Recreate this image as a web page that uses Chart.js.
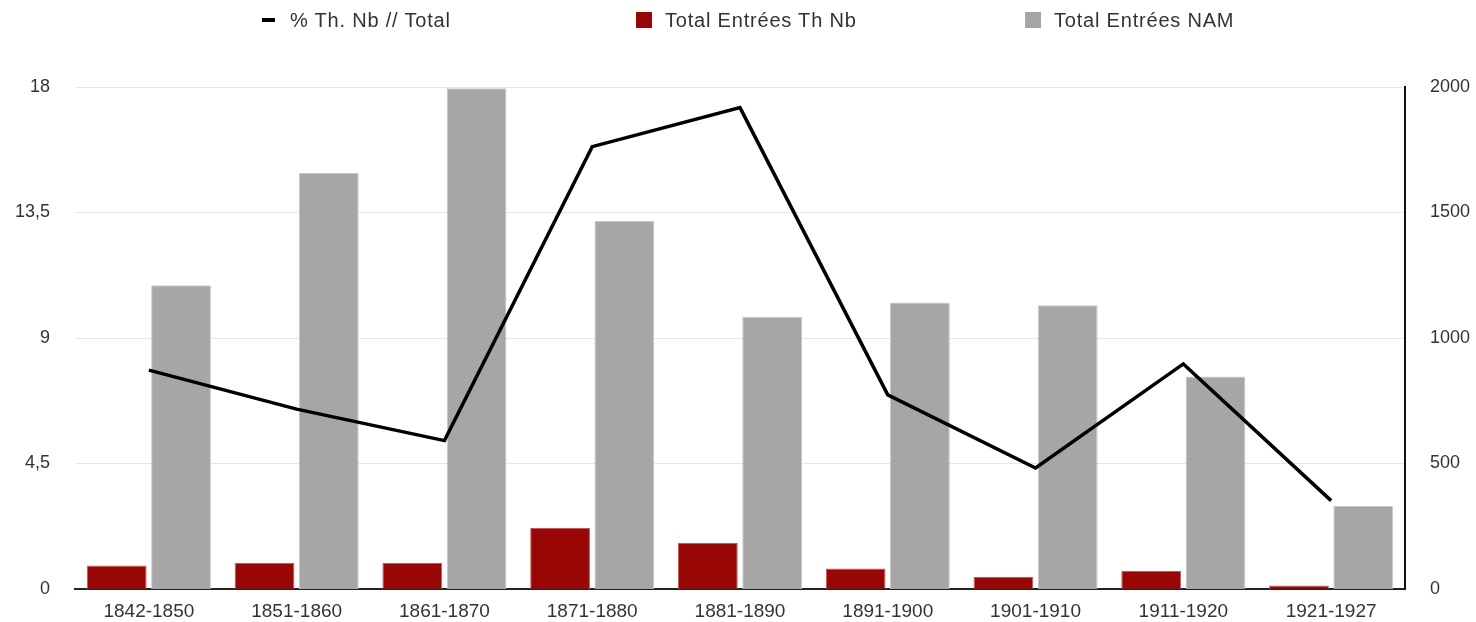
<!doctype html>
<html lang="fr">
  <head>
    <meta charset="utf-8">
    <title>Entrées Th Nb / NAM</title>
    <style>
      * {
        margin: 0;
        padding: 0;
      }
      body {
        background: #fff;
        font-family: 'Liberation Sans', Arial, sans-serif;
      }
      .chartBox {
        position: relative;
        width: 1476px;
        height: 622px;
      }
      .legend {
        position: absolute;
        top: 0;
        left: 0;
        width: 100%;
        height: 40px;
      }
      .legend span.item {
        position: absolute;
        top: 9px;
        font-size: 20px;
        line-height: 22px;
        letter-spacing: 0.8px;
        color: #333;
        white-space: nowrap;
      }
      .legend i {
        display: inline-block;
        vertical-align: middle;
        margin-top: -3px;
      }
    </style>
  </head>
  <body>
    <div class="chartBox">
      <canvas id="myChart"></canvas>
      <div class="legend" id="legend"></div>
    </div>
    <script src="https://cdn.jsdelivr.net/npm/chart.js"></script>
    <script>
    // data
    const periods = ['1842-1850', '1851-1860', '1861-1870', '1871-1880', '1881-1890',
                     '1891-1900', '1901-1910', '1911-1920', '1921-1927'];
    const pctThNb = [7.85, 6.45, 5.32, 15.86, 17.26, 6.96, 4.34, 8.07, 3.17];
    const entreesThNb = [94, 104, 104, 243, 183, 82, 48, 72, 14];
    const entreesNam = [1210, 1657, 1995, 1466, 1085, 1141, 1130, 847, 331];
    const leftTicks = [0, 4.5, 9, 13.5, 18];
    const rightTicks = [0, 500, 1000, 1500, 2000];

    Chart.defaults.font.family = "'Liberation Sans', Arial, sans-serif";
    Chart.defaults.font.size = 18;
    Chart.defaults.color = '#333';

    const data = {
      labels: periods,
      datasets: [{
        type: 'line',
        label: '% Th. Nb // Total',
        data: pctThNb,
        yAxisID: 'y',
        borderColor: '#000',
        backgroundColor: '#000',
        borderWidth: 3.5,
        pointRadius: 0,
        tension: 0
      }, {
        type: 'bar',
        label: 'Total Entrées Th Nb',
        data: entreesThNb,
        yAxisID: 'y1',
        backgroundColor: '#990606',
        borderColor: '#c25a5a',
        borderWidth: 1
      }, {
        type: 'bar',
        label: 'Total Entrées NAM',
        data: entreesNam,
        yAxisID: 'y1',
        backgroundColor: '#a6a6a6',
        borderColor: '#c8c8c8',
        borderWidth: 1
      }]
    };

    // fixed axis widths; drop the label overhang padding on the value axes
    function sideAxis(width) {
      return scale => {
        scale.width = width;
        scale.paddingTop = 0;
        scale.paddingBottom = 0;
      };
    }

    const config = {
      data,
      options: {
        responsive: true,
        maintainAspectRatio: false,
        animation: false,
        layout: {
          padding: { top: 87, bottom: 1, left: 0, right: 0 }
        },
        datasets: {
          bar: {
            categoryPercentage: 0.87,
            barPercentage: 0.93
          }
        },
        plugins: {
          legend: { display: false },
          tooltip: { enabled: false }
        },
        scales: {
          x: {
            offset: true,
            afterFit: scale => { scale.height = 32; },
            grid: { display: false },
            border: { display: true, color: '#222', width: 2 },
            ticks: { padding: 3, color: '#333', maxRotation: 0, font: { size: 19 } }
          },
          y: {
            position: 'left',
            min: 0,
            max: 18,
            afterBuildTicks: scale => {
              scale.ticks = leftTicks.map(v => ({ value: v }));
            },
            afterFit: sideAxis(75),
            grid: { color: '#e6e6e6', lineWidth: 1, drawTicks: false },
            border: { display: false },
            ticks: {
              padding: 25,
              callback: v => String(v).replace('.', ',')
            }
          },
          y1: {
            position: 'right',
            min: 0,
            max: 2000,
            afterBuildTicks: scale => {
              scale.ticks = rightTicks.map(v => ({ value: v }));
            },
            afterFit: sideAxis(71),
            grid: { display: false, drawTicks: false },
            border: { display: true, color: '#111', width: 2 },
            ticks: { padding: 25, callback: v => String(v) }
          }
        }
      }
    };

    const context = document.getElementById('myChart');
    const myChart = new Chart(context, config);

    // legend, laid out like the original (wide gaps between items)
    const legendLeft = [262, 636, 1025];
    const legendBox = document.getElementById('legend');
    myChart.data.datasets.forEach((ds, i) => {
      const item = document.createElement('span');
      item.className = 'item';
      item.style.left = legendLeft[i] + 'px';
      const mark = document.createElement('i');
      if (ds.type === 'line') {
        mark.style.width = '13px';
        mark.style.height = '4px';
        mark.style.marginRight = '15px';
      } else {
        mark.style.width = '16px';
        mark.style.height = '16px';
        mark.style.marginRight = '13px';
      }
      mark.style.background = ds.backgroundColor;
      item.appendChild(mark);
      item.appendChild(document.createTextNode(ds.label));
      legendBox.appendChild(item);
    });
    </script>
  </body>
</html>
